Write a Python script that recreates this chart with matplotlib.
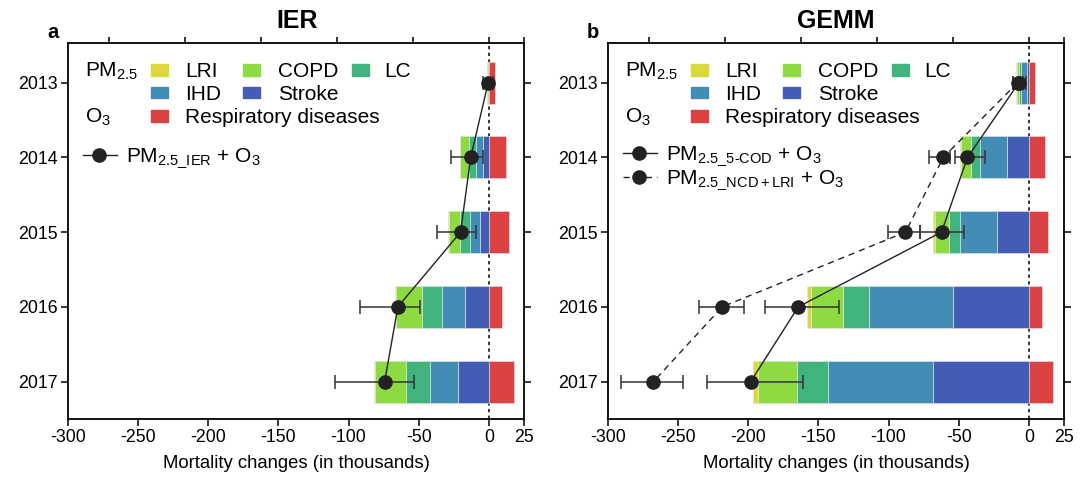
import matplotlib
matplotlib.use('Agg')
import matplotlib.pyplot as plt
from matplotlib.patches import Rectangle
from matplotlib.lines import Line2D
import matplotlib.transforms as mtransforms
import numpy as np

plt.rcParams['font.family'] = ['Liberation Sans', 'DejaVu Sans']
plt.rcParams['mathtext.fontset'] = 'custom'
plt.rcParams['mathtext.rm'] = 'Liberation Sans'
plt.rcParams['mathtext.it'] = 'Liberation Sans:italic'
plt.rcParams['mathtext.bf'] = 'Liberation Sans:bold'

# ---------------- data (thousands) ----------------
years = [2013, 2014, 2015, 2016, 2017]
xticks = [-300, -250, -200, -150, -100, -50, 0, 25]
xticklabels = ['-300', '-250', '-200', '-150', '-100', '-50', '0', '25']
top_ticks = [-270.8, -216.7, -162.5, -108.3, -54.2, 0, 25]

# IER panel (PM2.5 causes are reductions, drawn to the left)
lri_ier = [0.1, 0.3, 0.3, 0.5, 0.7]
copd_ier = [1.0, 6.2, 8.3, 18.3, 22.1]
lc_ier = [0.2, 4.8, 6.7, 14.3, 17.3]
ihd_ier = [0.2, 5.2, 7.1, 16.4, 20.2]
stroke_ier = [0.1, 4.3, 6.6, 17.1, 21.9]
resp_ier = [4.6, 11.9, 14.0, 9.3, 17.8]
tot_ier = [-0.5, -13.0, -20.2, -64.9, -74.3]
tot_ier_lo = [-4.0, -27.3, -37.0, -91.7, -109.8]
tot_ier_hi = [3.0, -4.3, -9.0, -49.4, -53.2]

# GEMM panel
lri_gemm = [0.7, 1.1, 1.2, 3.1, 3.6]
copd_gemm = [1.2, 7.1, 10.0, 22.3, 28.0]
lc_gemm = [1.6, 6.0, 8.1, 18.5, 22.1]
ihd_gemm = [3.8, 19.3, 26.2, 60.1, 74.7]
stroke_gemm = [1.7, 15.7, 22.8, 54.2, 68.5]
resp_gemm = [4.3, 11.4, 13.5, 9.5, 17.3]
cod5 = [-7.1, -43.8, -62.3, -164.4, -198.3]
cod5_lo = [-11.4, -52.8, -77.3, -187.8, -229.5]
cod5_hi = [-2.4, -31.0, -46.1, -135.5, -160.9]
ncd = [-8.0, -61.0, -88.0, -218.6, -267.6]
ncd_lo = [-11.5, -70.9, -100.1, -235.2, -290.5]
ncd_hi = [-4.0, -56.6, -77.3, -203.2, -246.7]

# ---------------- style ----------------
C_LRI = '#d9d93d'
C_COPD = '#8dda42'
C_LC = '#41b37c'
C_IHD = '#428db5'
C_STROKE = '#425db3'
C_RESP = '#d94142'
DARK = '#222222'

W, H = 1091, 482
fig = plt.figure(figsize=(W / 100, H / 100), dpi=100)


def fx(x):
    return x / W


def fy(y):
    return 1 - y / H


def make_axes(x0):
    return fig.add_axes([fx(x0), fy(419), 456 / W, 376 / H])


def stack_bars(ax, lri, copd, lc, ihd, stroke, resp):
    y = np.array(years)
    cum = np.zeros(len(years))
    for vals, col in [(stroke, C_STROKE), (ihd, C_IHD), (lc, C_LC),
                      (copd, C_COPD), (lri, C_LRI)]:
        v = np.array(vals)
        ax.barh(y, -v, left=-cum, height=0.56, color=col,
                edgecolor='#e6e6e6', linewidth=0.4, zorder=2)
        cum = cum + v
    ax.barh(y, resp, left=0, height=0.56, color=C_RESP,
            edgecolor='#e6e6e6', linewidth=0.4, zorder=2)


def points(ax, vals, lo, hi, ls):
    v = np.array(vals)
    err = [v - np.array(lo), np.array(hi) - v]
    eb = ax.errorbar(v, years, xerr=err, fmt='o', linestyle=ls, color=DARK,
                     ms=9.5, lw=1.0, ecolor='#333333', elinewidth=1.1,
                     capsize=4.8, capthick=1.1, zorder=4)
    if ls != '-':
        eb[0].set_dashes([4.5, 3.5])
    return eb


def style_axes(ax):
    ax.set_xlim(-300, 25)
    ax.set_ylim(2017.5, 2012.47)
    ax.axvline(0, color='black', lw=1.1, ls=(0, (2.2, 2.2)), zorder=1)
    ax.set_xticks(xticks)
    ax.set_xticklabels(xticklabels)
    ax.set_yticks(years)
    ax.set_yticklabels([str(y) for y in years])
    ax.tick_params(axis='both', direction='out', length=5, width=1.1,
                   labelsize=12.8, pad=2.5, color='black')
    ax.tick_params(axis='y', right=True, labelright=False)
    for s in ax.spines.values():
        s.set_linewidth(1.3)
    # outward tick marks on the top spine
    tr = mtransforms.blended_transform_factory(ax.transData, ax.transAxes)
    tick_len = 6.5 / 376
    for t in top_ticks:
        ax.add_line(Line2D([t, t], [1, 1 + tick_len], transform=tr,
                           color='black', lw=1.1, clip_on=False,
                           solid_capstyle='butt'))
    ax.set_xlabel('Mortality changes (in thousands)', fontsize=13.3, labelpad=6)


def legend(dx, line_entries):
    fs = 15
    base = 6.6
    fig.text(fx(85 + dx), fy(70 + base), 'PM$_{2.5}$', fontsize=fs, va='baseline')
    fig.text(fx(85 + dx), fy(116 + base), 'O$_3$', fontsize=fs, va='baseline')
    entries = [
        (151, 185, 70, C_LRI, 'LRI'),
        (243, 278, 70, C_COPD, 'COPD'),
        (352, 384, 70, C_LC, 'LC'),
        (151, 185, 93, C_IHD, 'IHD'),
        (243, 278, 93, C_STROKE, 'Stroke'),
        (151, 185, 116, C_RESP, 'Respiratory diseases'),
    ]
    for px, tx, ry, col, lab in entries:
        fig.add_artist(Rectangle((fx(px + dx), fy(ry + 5.5)), 17 / W, 11 / H,
                                 transform=fig.transFigure, color=col))
        fig.text(fx(tx + dx), fy(ry + base), lab, fontsize=fs, va='baseline')
    for ry, ls, lab in line_entries:
        ln = Line2D([fx(83 + dx), fx(117 + dx)], [fy(ry), fy(ry)],
                    transform=fig.transFigure, color=DARK, lw=1.0,
                    marker=None, linestyle=ls)
        if ls != '-':
            ln.set_dashes([4.5, 3.5])
        fig.add_artist(ln)
        fig.add_artist(Line2D([fx(99 + dx)], [fy(ry)], transform=fig.transFigure,
                              marker='o', ms=9.5, color=DARK, linestyle='none'))
        fig.text(fx(126 + dx), fy(ry + base), lab, fontsize=fs, va='baseline')


# ---------------- panel a: IER ----------------
ax1 = make_axes(68)
stack_bars(ax1, lri_ier, copd_ier, lc_ier, ihd_ier, stroke_ier, resp_ier)
points(ax1, tot_ier, tot_ier_lo, tot_ier_hi, '-')
style_axes(ax1)

# ---------------- panel b: GEMM ----------------
ax2 = make_axes(608)
stack_bars(ax2, lri_gemm, copd_gemm, lc_gemm, ihd_gemm, stroke_gemm, resp_gemm)
points(ax2, ncd, ncd_lo, ncd_hi, '--')
points(ax2, cod5, cod5_lo, cod5_hi, '-')
style_axes(ax2)

legend(0, [(155, '-', r'PM$_{2.5\_\mathrm{IER}}$ + O$_3$')])
legend(540, [(153, '-', r'PM$_{2.5\_5\text{-}\mathrm{COD}}$ + O$_3$'),
             (177, '--', r'PM$_{2.5\_\mathrm{NCD+LRI}}$ + O$_3$')])

fig.text(fx(297), fy(21), 'IER', fontsize=18, fontweight='bold',
         ha='center', va='center')
fig.text(fx(836), fy(21), 'GEMM', fontsize=18, fontweight='bold',
         ha='center', va='center')
fig.text(fx(47), fy(32), 'a', fontsize=14.5, fontweight='bold', va='center')
fig.text(fx(587), fy(32), 'b', fontsize=14.5, fontweight='bold', va='center')

fig.savefig('out.png', dpi=100)
